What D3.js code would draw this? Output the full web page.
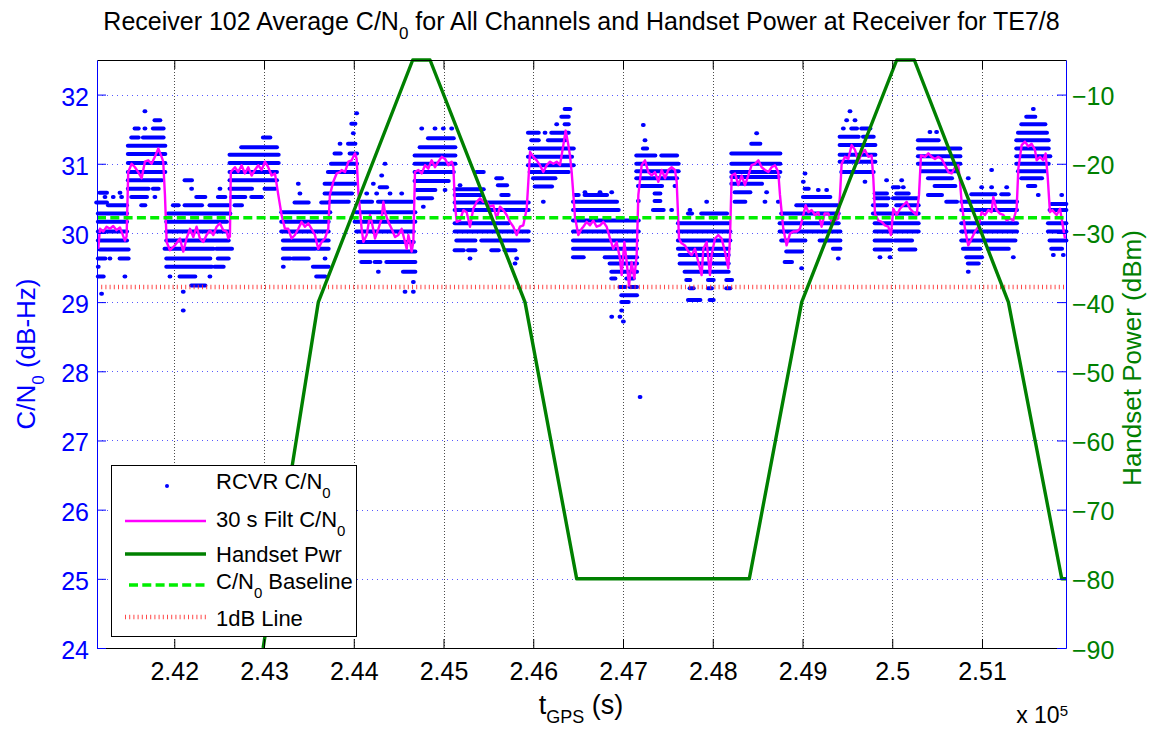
<!DOCTYPE html>
<html>
<head>
<meta charset="utf-8">
<script src="https://cdn.jsdelivr.net/npm/d3@7"></script>
<style>
body { margin: 0; background: #fff; }
text { font-family: "Liberation Sans", Arial, Helvetica, sans-serif; }
</style>
</head>
<body>
<div id="chart"></div>
<script>
// handset power at receiver (dBm), piecewise ramps
var pwrT = [242990, 243605, 244657, 244850, 245908, 246484, 248407, 248991, 250050, 250246, 251294, 251889, 251936];
var pwrDbm = [-90, -40, -5, -5, -40, -80, -80, -40, -5, -5, -40, -80, -80];

// C/N0 baseline and 1 dB line
var cnBaseline = 30.22;
var cn1dB = 29.22;

// 30 s filtered C/N0 [t, dB-Hz]
var filt30 = [
  [241153,29.77],[241172,30.06],[241209,30.02],[241246,30.09],[241283,30.06],[241320,30.10],[241357,30.04],[241395,30.08],
  [241450,29.89],[241469,29.95],[241487,30.88],[241525,31.00],[241562,30.95],[241599,30.88],[241636,30.79],[241673,31.03],
  [241710,31.05],[241747,31.00],[241784,31.10],[241822,31.22],[241859,31.10],[241877,31.03],[241896,30.55],[241915,29.87],
  [241952,29.75],[242007,29.82],[242063,29.92],[242100,29.73],[242137,29.92],[242175,30.06],[242212,29.94],[242249,30.09],
  [242286,29.92],[242323,29.87],[242360,29.97],[242397,30.04],[242435,29.97],[242472,30.09],[242509,30.14],[242546,30.04],
  [242583,30.02],[242602,29.92],[242620,29.95],[242630,30.88],[242676,30.95],[242713,30.88],[242750,30.98],[242787,30.86],
  [242824,30.95],[242862,30.83],[242899,30.91],[242936,30.98],[242973,30.91],[243010,31.03],[243047,30.95],[243084,30.83],
  [243122,30.86],[243140,30.71],[243159,30.55],[243196,30.26],[243233,30.06],[243270,30.06],[243307,29.92],[243344,29.97],
  [243382,30.06],[243419,30.16],[243456,30.09],[243493,30.14],[243530,30.06],[243567,29.97],[243604,29.77],[243642,29.87],
  [243679,29.92],[243716,30.06],[243734,30.55],[243772,30.74],[243809,30.86],[243846,30.88],[243865,30.91],[243902,30.88],
  [243940,31.03],[243977,31.05],[243995,31.10],[244014,31.15],[244032,31.07],[244051,30.59],[244088,30.06],[244107,29.87],
  [244144,29.97],[244181,30.26],[244200,30.16],[244237,29.92],[244274,30.06],[244311,30.21],[244330,30.45],[244348,30.30],
  [244385,30.16],[244422,30.06],[244460,29.94],[244497,29.97],[244534,30.06],[244571,29.87],[244590,29.77],[244608,29.97],
  [244627,29.87],[244645,29.73],[244664,29.87],[244682,30.88],[244720,30.91],[244757,30.86],[244794,30.98],[244831,30.93],
  [244868,31.05],[244905,30.95],[244942,31.03],[244980,31.10],[245017,31.07],[245054,30.98],[245091,31.03],[245110,30.95],
  [245128,30.40],[245147,30.16],[245184,30.18],[245221,30.33],[245258,30.30],[245295,30.09],[245332,30.35],[245370,30.45],
  [245407,30.50],[245444,30.45],[245481,30.45],[245518,30.38],[245555,30.40],[245592,30.21],[245630,30.38],[245667,30.33],
  [245704,30.26],[245741,30.16],[245778,30.09],[245815,29.97],[245852,30.09],[245889,30.11],[245927,30.35],[245945,30.74],
  [245964,31.17],[246001,31.10],[246038,31.05],[246075,30.98],[246112,30.88],[246150,30.98],[246187,31.03],[246224,31.00],
  [246261,31.03],[246298,30.98],[246335,31.27],[246361,31.48],[246391,31.27],[246409,31.12],[246428,30.88],[246447,30.55],
  [246465,30.23],[246502,29.97],[246539,30.06],[246558,30.09],[246595,30.16],[246632,30.11],[246669,30.18],[246706,30.09],
  [246744,30.11],[246781,30.16],[246818,30.09],[246855,29.92],[246892,29.77],[246929,29.87],[246966,29.63],[246985,29.39],
  [247015,29.87],[247041,29.58],[247067,29.24],[247096,29.58],[247126,29.34],[247152,29.68],[247171,30.55],[247208,30.98],
  [247245,31.05],[247282,30.88],[247319,30.83],[247356,30.88],[247394,30.74],[247431,30.91],[247468,30.79],[247505,30.91],
  [247542,30.95],[247579,30.91],[247598,30.74],[247624,29.92],[247653,29.85],[247690,29.82],[247728,29.73],[247765,29.68],
  [247802,29.77],[247839,29.58],[247876,29.39],[247895,29.77],[247932,29.87],[247969,29.39],[247987,29.68],[248025,29.92],
  [248062,29.97],[248099,29.92],[248136,29.73],[248173,29.49],[248192,29.92],[248211,30.83],[248248,30.86],[248285,30.69],
  [248322,30.83],[248359,30.69],[248396,30.83],[248433,30.98],[248471,31.00],[248508,31.05],[248545,30.95],[248582,30.91],
  [248619,30.88],[248656,30.95],[248693,30.98],[248730,30.88],[248749,30.55],[248786,30.06],[248823,29.82],[248861,29.99],
  [248898,30.02],[248935,30.02],[248972,30.06],[249009,30.26],[249035,30.40],[249065,30.30],[249102,30.33],[249139,30.26],
  [249176,30.30],[249213,30.09],[249247,30.28],[249288,30.28],[249325,30.16],[249362,30.18],[249399,30.21],[249418,30.55],
  [249436,31.00],[249473,31.10],[249510,31.07],[249548,31.27],[249585,31.20],[249622,31.03],[249659,31.15],[249696,31.20],
  [249733,31.10],[249770,31.12],[249789,30.79],[249808,30.28],[249845,30.18],[249882,30.16],[249919,30.11],[249956,30.09],
  [249986,29.97],[250012,30.35],[250049,30.26],[250086,30.35],[250123,30.40],[250160,30.45],[250198,30.35],[250235,30.30],
  [250272,30.26],[250298,30.55],[250320,31.12],[250365,31.10],[250402,31.15],[250439,31.10],[250476,31.07],[250513,31.10],
  [250550,31.07],[250587,30.98],[250625,30.88],[250662,30.86],[250699,30.95],[250736,30.98],[250755,30.74],[250773,30.45],
  [250810,30.06],[250847,29.82],[250885,29.92],[250922,30.02],[250959,30.09],[250996,30.30],[251033,30.26],[251070,30.33],
  [251107,30.30],[251126,30.52],[251163,30.33],[251200,30.28],[251237,30.26],[251275,30.18],[251312,30.21],[251349,30.18],
  [251386,30.35],[251405,30.93],[251442,31.27],[251479,31.32],[251516,31.25],[251553,31.29],[251590,31.20],[251609,31.05],
  [251646,31.10],[251683,31.05],[251709,31.15],[251731,30.83],[251757,30.30],[251783,30.33],[251832,30.26],[251869,30.35],
  [251906,30.06],[251925,29.92]
];

// receiver C/N0 samples, quantised rows: [dB-Hz, t start, t end]
var rcvrRows = [
  // 241.1k - 241.5k
  [30.58,241172,241246],[30.58,241395,241395],[30.52,241228,241228],[30.52,241320,241320],[30.52,241413,241413],
  [30.44,241135,241246],[30.40,241265,241469],[30.28,241153,241469],[30.16,241153,241469],[30.02,241153,241469],
  [29.89,241153,241469],[29.76,241172,241487],[29.63,241153,241228],[29.63,241283,241283],[29.63,241395,241487],
  [29.51,241153,241153],[29.37,241153,241209],[29.37,241450,241450],[29.12,241190,241190],
  // 241.5k - 241.9k
  [31.76,241673,241673],[31.63,241784,241840],[31.51,241562,241599],[31.51,241673,241673],[31.51,241766,241877],
  [31.38,241525,241599],[31.38,241655,241877],[31.26,241487,241896],[31.14,241487,241896],[31.01,241487,241896],
  [30.88,241487,241896],[30.76,241487,241859],[30.64,241487,241710],[30.64,241766,241822],[30.52,241525,241692],
  [30.52,241784,241784],[30.40,241636,241673],
  // 241.9k - 242.6k
  [30.76,242119,242193],[30.64,242193,242193],[30.64,242509,242509],[30.52,242249,242342],[30.52,242490,242565],
  [30.40,241989,242045],[30.40,242119,242305],[30.40,242397,242602],[30.28,241933,242620],[30.16,241915,242583],
  [30.02,241915,242602],[29.89,241915,242602],[29.77,241896,242435],[29.77,242472,242639],[29.63,241915,242397],
  [29.63,242490,242602],[29.51,241915,242416],[29.51,242453,242546],[29.37,241952,241952],[29.37,242063,242230],
  [29.37,242397,242397],[29.24,242193,242342],[29.15,242100,242100],[28.88,242100,242100],
  // 242.6k - 243.1k
  [31.38,242992,243066],[31.24,242750,243140],[31.13,242620,243159],[31.01,242620,243159],[30.88,242620,243140],
  [30.76,242620,243140],[30.64,242620,242862],[30.64,243010,243122],[30.52,242639,242787],[30.52,242862,242973],
  [30.40,242676,242750],
  // 243.1k - 243.7k
  [30.71,243382,243382],[30.57,243400,243400],[30.44,243344,243493],[30.44,243642,243716],[30.30,243196,243734],
  [30.16,243196,243716],[30.02,243196,243716],[29.89,243215,243716],[29.77,243215,243567],[29.77,243604,243716],
  [29.63,243215,243289],[29.63,243326,243493],[29.63,243680,243680],[29.51,243215,243215],[29.51,243549,243716],
  [29.37,243586,243679],
  // 243.7k - 244.0k
  [31.73,244032,244032],[31.58,243977,244014],[31.44,243995,243995],[31.29,243847,243847],[31.29,243940,244014],
  [31.15,243790,243850],[31.15,243958,244032],[31.00,243750,244032],[30.88,243716,244014],[30.71,243679,244014],
  [30.57,243679,243977],[30.45,243734,243940],
  // 244.0k - 244.7k
  [31.00,244348,244348],[30.83,244311,244311],[30.71,244218,244218],[30.66,244293,244367],[30.57,244144,244144],
  [30.57,244255,244255],[30.57,244404,244404],[30.57,244534,244534],[30.45,244088,244200],[30.45,244274,244645],
  [30.30,244032,244682],[30.16,244014,244682],[30.02,244032,244664],[29.87,244051,244664],[29.73,244070,244682],
  [29.58,244088,244181],[29.58,244237,244293],[29.58,244367,244682],[29.44,244274,244274],[29.44,244552,244682],
  [29.29,244664,244664],[29.15,244571,244571],[29.15,244664,244664],
  // 244.7k - 245.1k
  [31.51,244757,244757],[31.51,244905,244905],[31.51,244998,244998],[31.51,245091,245091],[31.37,244831,245110],
  [31.24,244738,245128],[31.12,244682,245128],[31.00,244682,245128],[30.88,244682,245110],[30.75,244682,245054],
  [30.62,244701,244905],[30.62,245017,245017],[30.50,244720,244868],[30.38,244775,244775],
  // 245.1k - 245.9k
  [30.88,245370,245444],[30.79,245592,245648],[30.69,245184,245184],[30.69,245610,245704],[30.63,245128,245444],
  [30.55,245128,245425],[30.55,245648,245722],[30.44,245128,245945],[30.33,245128,245945],[30.14,245128,245722],
  [30.02,245128,245945],[29.89,245147,245351],[29.89,245425,245945],[29.75,245128,245221],[29.75,245277,245351],
  [29.75,245537,245611],[29.75,245685,245797],[29.63,245295,245295],[29.63,245815,245815],[29.56,245797,245797],
  // 245.9k - 246.4k
  [31.79,246354,246409],[31.68,246317,246391],[31.57,246261,246261],[31.57,246354,246391],[31.45,245945,246057],
  [31.45,246131,246131],[31.45,246205,246391],[31.34,245982,246057],[31.34,246168,246354],[31.22,245964,246447],
  [31.10,245945,246428],[30.98,245945,246447],[30.88,245964,246391],[30.79,246001,246243],[30.67,246020,246205],
  [30.45,246112,246112],
  // 246.4k - 247.2k
  [30.59,246576,246576],[30.59,246744,246744],[30.59,246874,246874],[30.55,246465,246502],[30.55,246576,246818],
  [30.45,246447,246929],[30.33,246447,246948],[30.18,246447,247171],[30.02,246447,247171],[29.89,246447,247152],
  [29.77,246447,247152],[29.65,246447,246558],[29.65,246800,247152],[29.56,246855,247152],[29.44,246874,247152],
  [29.34,246874,246911],[29.34,247041,247115],[29.22,246966,247022],[29.22,247078,247152],[29.10,246985,247152],
  [29.00,246985,247059],[28.88,246985,246985],[28.79,246874,246874],[28.79,246966,246966],[28.72,247004,247004],
  [27.63,247190,247190],
  // 247.2k - 247.6k
  [31.56,247226,247226],[31.34,247245,247245],[31.22,247226,247264],[31.12,247152,247356],[31.12,247431,247598],
  [31.00,247152,247616],[30.89,247152,247616],[30.79,247152,247598],[30.68,247171,247431],[30.68,247579,247579],
  [30.57,247356,247412],[30.46,247171,247171],[30.46,247356,247412],[30.33,247338,247449],[30.33,247542,247542],
  // 247.6k - 248.2k
  [30.45,247932,247932],[30.33,247746,247746],[30.28,247728,247765],[30.28,247876,248155],[30.14,247616,248173],
  [30.02,247616,248192],[29.89,247616,248192],[29.77,247616,248173],[29.68,247635,248173],[29.56,247635,248173],
  [29.44,247690,248173],[29.32,247709,247746],[29.32,247951,248006],[29.32,248155,248211],[29.20,247746,247783],
  [29.20,247951,247987],[29.20,248155,248192],[29.03,247728,247858],[29.03,247969,248006],
  // 248.2k - 248.7k
  [31.44,248489,248489],[31.29,248433,248526],[31.15,248211,248749],[31.00,248211,248749],[30.88,248211,248749],
  [30.81,248211,248730],[30.71,248211,248545],[30.59,248248,248415],[30.59,248600,248600],[30.45,248248,248359],
  [30.45,248582,248582],[30.45,248730,248730],
  // 248.7k - 249.4k
  [30.86,249028,249028],[30.74,249009,249009],[30.64,249028,249065],[30.62,249176,249176],[30.62,249269,249269],
  [30.52,249009,249306],[30.40,248935,249399],[30.28,248767,249399],[30.14,248749,249399],[30.02,248749,249418],
  [29.89,248767,249028],[29.89,249195,249418],[29.77,249343,249418],[29.73,248823,248990],[29.63,249399,249399],
  [29.58,248805,248879],[29.49,248990,248990],
  // 249.4k - 249.8k
  [31.76,249529,249529],[31.63,249492,249492],[31.63,249585,249585],[31.51,249455,249455],[31.51,249548,249603],
  [31.51,249659,249752],[31.39,249418,249622],[31.39,249678,249789],[31.27,249418,249808],[31.13,249418,249808],
  [31.03,249418,249808],[30.88,249436,249789],[30.74,249696,249696],
  // 249.8k - 250.3k
  [30.76,249937,249937],[30.76,250105,250105],[30.66,250012,250068],[30.66,250123,250123],[30.57,249808,249937],
  [30.57,250049,250179],[30.50,249808,249956],[30.50,250012,250272],[30.40,249789,249937],[30.40,250049,250290],
  [30.28,249789,250290],[30.14,249808,250290],[30.02,249808,250290],[29.89,249808,249993],[29.89,250030,250216],
  [29.76,249808,249975],[29.76,250086,250253],[29.65,249863,249863],[29.65,249975,249975],
  // 250.3k - 250.75k
  [31.46,250420,250420],[31.46,250494,250494],[31.34,250290,250513],[31.22,250290,250587],[31.22,250625,250755],
  [31.11,250290,250755],[31.00,250290,250755],[30.89,250328,250718],[30.79,250402,250662],[30.68,250476,250699],
  [30.55,250402,250550],[30.45,250606,250718],
  // 250.75k - 251.4k
  [30.91,251107,251107],[30.79,250847,250847],[30.66,250996,250996],[30.66,251107,251107],[30.66,251275,251275],
  [30.56,250885,251144],[30.56,251219,251294],[30.45,250773,251386],[30.33,250773,251386],[30.14,250773,251386],
  [30.02,250773,251386],[29.89,250773,251368],[29.77,250792,250977],[29.77,251070,251294],[29.65,250829,250996],
  [29.65,251349,251349],[29.56,250847,250959],[29.44,250847,250847],
  // 251.4k - 251.75k
  [31.79,251572,251572],[31.68,251497,251590],[31.57,251442,251702],[31.45,251405,251720],[31.34,251386,251739],
  [31.22,251386,251739],[31.11,251386,251757],[31.00,251386,251739],[30.89,251405,251702],[30.79,251442,251665],
  [30.68,251516,251590],[30.55,251627,251627],
  // 251.75k - end
  [30.55,251888,251888],[30.42,251776,251936],[30.33,251757,251936],[30.14,251739,251936],[30.02,251739,251936],
  [29.89,251757,251936],[29.77,251776,251888],[29.68,251795,251795],[29.68,251906,251906]
];

var xTicks = d3.range(242000, 251001, 1000);
var cnTicks = d3.range(24, 33, 1);
var pwrTicks = d3.range(-90, -9, 10);

var width = 1150, height = 730;
var plotL = 97, plotR = 1066, plotT = 60, plotB = 648;
var font = '"Liberation Sans", Arial, Helvetica, sans-serif';

var svg = d3.select("#chart").append("svg").attr("width", width).attr("height", height);

var x = d3.scaleLinear().domain([241139, 251936]).range([plotL, plotR]);
var yCn = d3.scaleLinear().domain([24, 32.5]).range([plotB, plotT]);
var yPwr = d3.scaleLinear().domain([-90, -5]).range([plotB, plotT]);

// grid
svg.append("g").selectAll("line").data(xTicks).join("line")
  .attr("x1", d => Math.round(x(d)) + 0.5).attr("x2", d => Math.round(x(d)) + 0.5)
  .attr("y1", plotT).attr("y2", plotB)
  .attr("stroke", "#000").attr("stroke-dasharray", "1,2").attr("opacity", 0.7);
svg.append("g").selectAll("line").data(cnTicks.slice(1)).join("line")
  .attr("y1", d => Math.round(yCn(d)) + 0.5).attr("y2", d => Math.round(yCn(d)) + 0.5)
  .attr("x1", plotL).attr("x2", plotR)
  .attr("stroke", "#2020ff").attr("stroke-dasharray", "1,4").attr("opacity", 0.75);

// receiver C/N0 dots
svg.append("g").selectAll("line").data(rcvrRows).join("line")
  .attr("x1", d => x(d[1]) - 0.4).attr("x2", d => x(d[2]) + 0.4)
  .attr("y1", d => yCn(d[0])).attr("y2", d => yCn(d[0]))
  .attr("stroke", "#0000ff").attr("stroke-width", 4).attr("stroke-linecap", "round");

// filtered C/N0
svg.append("path").datum(filt30)
  .attr("d", d3.line().x(d => x(d[0])).y(d => yCn(d[1])))
  .attr("fill", "none").attr("stroke", "#ff00ff").attr("stroke-width", 2.4).attr("stroke-linejoin", "round");

// baseline and 1 dB line
svg.append("line").attr("x1", plotL).attr("x2", plotR)
  .attr("y1", yCn(cnBaseline)).attr("y2", yCn(cnBaseline))
  .attr("stroke", "#00ee00").attr("stroke-width", 3.5).attr("stroke-dasharray", "9,4.3");
svg.append("line").attr("x1", plotL).attr("x2", plotR)
  .attr("y1", yCn(cn1dB)).attr("y2", yCn(cn1dB))
  .attr("stroke", "#ff2a2a").attr("stroke-width", 4.5).attr("stroke-dasharray", "1,3.2").attr("opacity", 0.85);

// handset power
svg.append("path").datum(d3.zip(pwrT, pwrDbm))
  .attr("d", d3.line().x(d => x(d[0])).y(d => yPwr(d[1])))
  .attr("fill", "none").attr("stroke", "#008000").attr("stroke-width", 3.4).attr("stroke-linejoin", "round");

// axes
function styleAxis(g, lineColor, textColor) {
  g.attr("font-family", font).attr("font-size", 25);
  g.selectAll(".domain").attr("stroke", lineColor);
  g.selectAll(".tick line").attr("stroke", lineColor);
  g.selectAll(".tick text").attr("fill", textColor);
}
svg.append("g").attr("transform", "translate(0," + plotB + ")")
  .call(d3.axisBottom(x).tickValues(xTicks).tickSize(-9).tickSizeOuter(0).tickPadding(14)
    .tickFormat(d => String(+(d / 1e5).toFixed(2))))
  .call(g => styleAxis(g, "#000", "#000"));
svg.append("g").attr("transform", "translate(0," + plotT + ")")
  .call(d3.axisTop(x).tickValues(xTicks).tickSize(-9).tickSizeOuter(0).tickFormat(""))
  .call(g => styleAxis(g, "#000", "#000"));
svg.append("g").attr("transform", "translate(" + plotL + ",0)")
  .call(d3.axisLeft(yCn).tickValues(cnTicks).tickSize(-9).tickSizeOuter(0).tickPadding(8))
  .call(g => styleAxis(g, "#0000ff", "#0000ff"))
  .call(g => g.selectAll(".tick text").attr("dy", "0.42em"));
svg.append("g").attr("transform", "translate(" + plotR + ",0)")
  .call(d3.axisRight(yPwr).tickValues(pwrTicks).tickSize(-9).tickSizeOuter(0).tickPadding(6))
  .call(g => styleAxis(g, "#0000ff", "#008000"))
  .call(g => g.selectAll(".tick text").attr("dy", "0.40em"));

// title
var title = svg.append("text").attr("x", (plotL + plotR) / 2).attr("y", 30)
  .attr("text-anchor", "middle").attr("font-size", 25).attr("fill", "#000");
title.append("tspan").text("Receiver 102 Average C/N");
title.append("tspan").attr("dy", 9).attr("font-size", 17).text("0");
title.append("tspan").attr("dy", -9).text(" for All Channels and Handset Power at Receiver for TE7/8");

// y labels
var yl = svg.append("text").attr("transform", "translate(35,354) rotate(-90)")
  .attr("text-anchor", "middle").attr("font-size", 26).attr("fill", "#0000ff");
yl.append("tspan").text("C/N");
yl.append("tspan").attr("dy", 9).attr("font-size", 17).text("0");
yl.append("tspan").attr("dy", -9).text(" (dB-Hz)");

svg.append("text").attr("transform", "translate(1141,358) rotate(-90)")
  .attr("text-anchor", "middle").attr("font-size", 26).attr("fill", "#008000")
  .text("Handset Power (dBm)");

// x label
var xl = svg.append("text").attr("x", 581).attr("y", 714)
  .attr("text-anchor", "middle").attr("font-size", 27).attr("fill", "#000");
xl.append("tspan").text("t");
xl.append("tspan").attr("dy", 9).attr("font-size", 18).text("GPS");
xl.append("tspan").attr("dy", -9).text(" (s)");

var ex = svg.append("text").attr("x", 1068).attr("y", 723)
  .attr("text-anchor", "end").attr("font-size", 23).attr("fill", "#000");
ex.append("tspan").text("x 10");
ex.append("tspan").attr("dy", -7).attr("font-size", 15).text("5");

// legend
var lg = svg.append("g").attr("font-size", 22).attr("fill", "#000");
lg.append("rect").attr("x", 111.5).attr("y", 465.5).attr("width", 245).attr("height", 171)
  .attr("fill", "#fff").attr("stroke", "#000");
lg.append("circle").attr("cx", 167).attr("cy", 486).attr("r", 2).attr("fill", "#0000ff");
lg.append("line").attr("x1", 125).attr("x2", 206).attr("y1", 521).attr("y2", 521)
  .attr("stroke", "#ff00ff").attr("stroke-width", 2.4);
lg.append("line").attr("x1", 125).attr("x2", 206).attr("y1", 554).attr("y2", 554)
  .attr("stroke", "#008000").attr("stroke-width", 3.4);
lg.append("line").attr("x1", 129).attr("x2", 206).attr("y1", 585).attr("y2", 585)
  .attr("stroke", "#00ee00").attr("stroke-width", 3.5).attr("stroke-dasharray", "9,4.3");
lg.append("line").attr("x1", 125).attr("x2", 206).attr("y1", 617).attr("y2", 617)
  .attr("stroke", "#ff2a2a").attr("stroke-width", 4.5).attr("stroke-dasharray", "1,3.2").attr("opacity", 0.85);

function legendText(y, pre, sub, post) {
  var t = lg.append("text").attr("x", 216).attr("y", y);
  t.append("tspan").text(pre);
  if (sub) {
    t.append("tspan").attr("dy", 9).attr("font-size", 15).text(sub);
    t.append("tspan").attr("dy", -9).text(post);
  }
}
legendText(489, "RCVR C/N", "0", "");
legendText(527, "30 s Filt C/N", "0", "");
legendText(562, "Handset Pwr");
legendText(589, "C/N", "0", " Baseline");
legendText(626, "1dB Line");
</script>
</body>
</html>
